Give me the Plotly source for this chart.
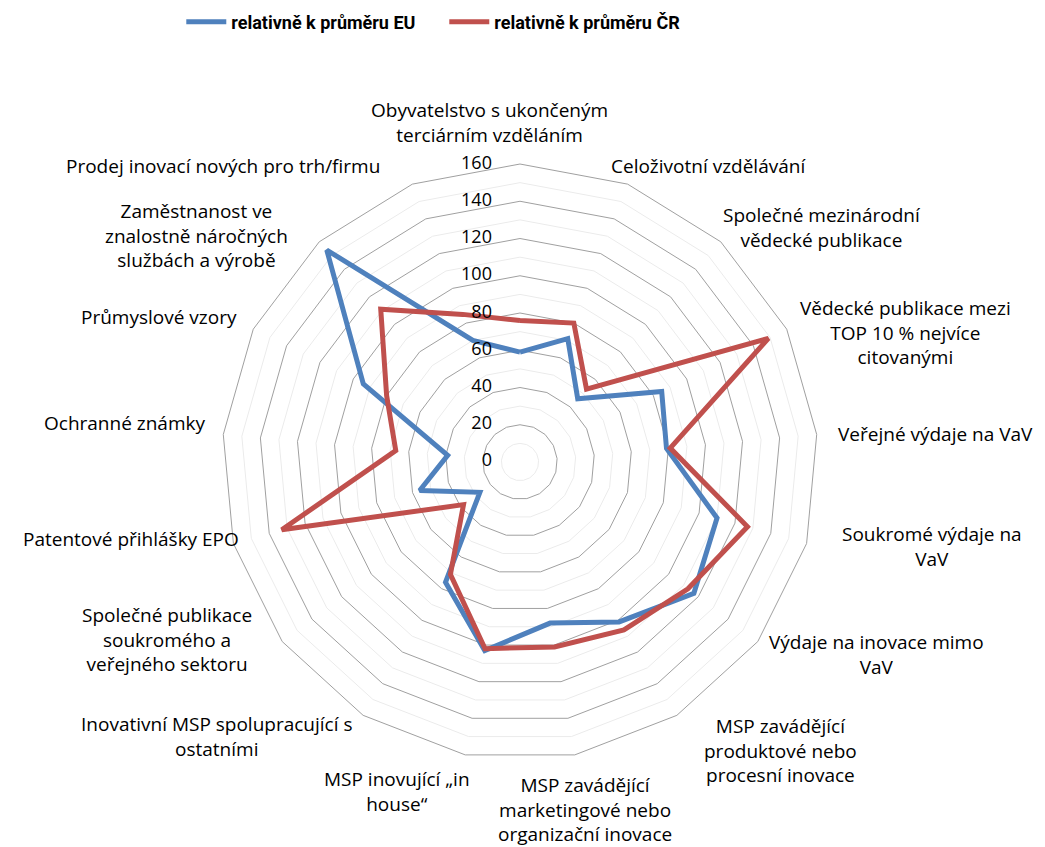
import math
import plotly.graph_objects as go

categories = [
    "Obyvatelstvo s ukončeným<br>terciárním vzděláním",
    "Celoživotní vzdělávání",
    "Společné mezinárodní<br>vědecké publikace",
    "Vědecké publikace mezi<br>TOP 10 % nejvíce<br>citovanými",
    "Veřejné výdaje na VaV",
    "Soukromé výdaje na<br>VaV",
    "Výdaje na inovace mimo<br>VaV",
    "MSP zavádějící<br>produktové nebo<br>procesní inovace",
    "MSP zavádějící<br>marketingové nebo<br>organizační inovace",
    "MSP inovující „in<br>house“",
    "Inovativní MSP spolupracující s<br>ostatními",
    "Společné publikace<br>soukromého a<br>veřejného sektoru",
    "Patentové přihlášky EPO",
    "Ochranné známky",
    "Průmyslové vzory",
    "Zaměstnanost ve<br>znalostně náročných<br>službách a výrobě",
    "Prodej inovací nových pro trh/firmu",
]

eu_values = [59, 71, 46, 85, 79, 110, 117, 101, 88, 103, 76, 27, 56, 39, 94, 154, 70]
cr_values = [76, 80, 53, 149, 81, 127, 113, 106, 101, 102, 71, 38, 133, 67, 80, 111, 85]

series_names = ["relativně k průměru EU", "relativně k průměru ČR"]
series_colors = ["#4F81BD", "#C0504D"]

radial_ticks = [0, 20, 40, 60, 80, 100, 120, 140, 160]
minor_rings = [10, 30, 50, 70, 90, 110, 130, 150]

# ---- layout / styling settings ----
W, H = 1045, 847
dom_x = [0.2048, 0.7751]
dom_y = [0.1122, 0.8158]
label_pad = 16
label_xanchor = ["center", "left", "left", "left", "left", "left", "left", "left",
                 "center", "right", "right", "right", "right", "right", "right", "right", "right"]
label_yanchor = ["bottom"] + ["middle"] * 7 + ["top", "top"] + ["middle"] * 7
label_dx = [-30, -24, -11, -3, 3, 18, -4, 17, 7, 10, 0, -15, 23, 0, 0, -18, -25]
label_dy = [2, -3, -2, 10, 1, -1, 3, 22, -1, -7, 8, -12, -9, -10, -5, 6, -3]

fig = go.Figure()

theta_closed = categories + [categories[0]]
for m in minor_rings:
    fig.add_trace(go.Scatterpolar(
        r=[m] * len(theta_closed), theta=theta_closed, mode="lines",
        line=dict(color="#EBEBEB", width=1), showlegend=False, hoverinfo="skip"))

for name, vals, col in zip(series_names, [eu_values, cr_values], series_colors):
    fig.add_trace(go.Scatterpolar(
        r=vals + [vals[0]], theta=theta_closed, mode="lines", name=name,
        line=dict(color=col, width=5)))

# radial tick labels, placed left of the top spoke
fig.add_trace(go.Scatterpolar(
    r=[t if t > 0 else 1e-6 for t in radial_ticks],
    theta=[categories[0]] * len(radial_ticks), mode="text",
    text=[f"{t}" + "\u00a0" * 6 for t in radial_ticks], textposition="middle left",
    textfont=dict(size=18, family="Open Sans", color="black"),
    showlegend=False, hoverinfo="skip", cliponaxis=False))

# category labels as annotations around the outer ring
cx = (dom_x[0] + dom_x[1]) / 2 * W
cy = (1 - (dom_y[0] + dom_y[1]) / 2) * H
R = (dom_x[1] - dom_x[0]) * W / 2
n = len(categories)
annotations = []
for i, lab in enumerate(categories):
    a = 2 * math.pi * i / n
    s, c = math.sin(a), math.cos(a)
    qx = cx + (R + label_pad) * s
    qy = cy - (R + label_pad) * c
    annotations.append(dict(
        x=qx / W, y=1 - qy / H, xref="paper", yref="paper", text=lab,
        showarrow=False, xanchor=label_xanchor[i], yanchor=label_yanchor[i],
        align="center", xshift=label_dx[i], yshift=-label_dy[i],
        font=dict(size=19, family="Open Sans", color="black")))

fig.update_layout(
    width=W, height=H,
    margin=dict(l=0, r=0, t=0, b=0, autoexpand=False),
    paper_bgcolor="white", plot_bgcolor="white",
    font=dict(family="Open Sans", size=17, color="black"),
    annotations=annotations,
    polar=dict(
        domain=dict(x=dom_x, y=dom_y),
        bgcolor="white",
        gridshape="linear",
        radialaxis=dict(
            range=[0, 160], tickvals=radial_ticks, angle=90,
            showline=False, ticks="", showticklabels=False,
            gridcolor="#A0A0A0", gridwidth=1,
        ),
        angularaxis=dict(
            direction="clockwise", rotation=90, showgrid=False,
            showline=True, linecolor="#A0A0A0", linewidth=1,
            ticks="", showticklabels=False,
        ),
    ),
    legend=dict(
        orientation="h", x=0.4175, xanchor="center", y=0.9835, yanchor="middle",
        font=dict(size=18, family="Liberation Sans Narrow, Roboto", weight="bold"),
        itemwidth=40, entrywidth=208,
    ),
)

fig.write_html("out.html")
